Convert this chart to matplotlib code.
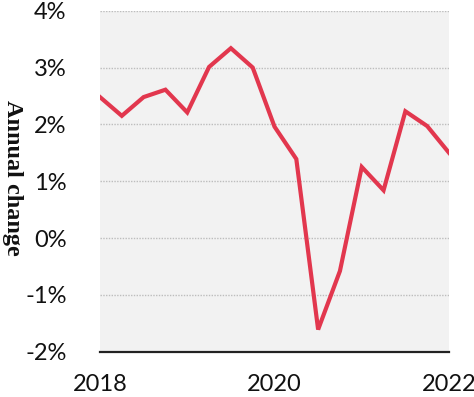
import matplotlib
matplotlib.use("Agg")
import matplotlib.pyplot as plt
import numpy as np

quarters = ["2018Q1","2018Q2","2018Q3","2018Q4","2019Q1","2019Q2","2019Q3","2019Q4",
            "2020Q1","2020Q2","2020Q3","2020Q4","2021Q1","2021Q2","2021Q3","2021Q4","2022Q1"]
values = [2.48, 2.15, 2.48, 2.61, 2.21, 3.01, 3.34, 3.0,
          1.96, 1.39, -1.61, -0.58, 1.25, 0.84, 2.23, 1.97, 1.5]
x_tick_labels = ["2018", "2020", "2022"]
y_ticks = [-2, -1, 0, 1, 2, 3, 4]
y_tick_labels = ["-2%", "-1%", "0%", "1%", "2%", "3%", "4%"]

fig = plt.figure(figsize=(4.74, 3.97), dpi=100)
ax = fig.add_axes([100/474, (397-351.7)/397, 349/474, (351.7-10.7)/397])
ax.set_facecolor("#f2f2f2")

x = np.arange(len(values))
ax.plot(x, values, color="#e2374e", lw=3.0, solid_joinstyle="miter", zorder=3)

ax.set_xlim(0, len(values) - 1)
ax.set_ylim(-2, 4)
ax.set_yticks(y_ticks)
ax.set_yticklabels(y_tick_labels)
ax.set_xticks([0, 8, 16])
ax.set_xticklabels(x_tick_labels)

for yv in y_ticks[1:]:
    ax.axhline(yv, color="#bdbdbd", lw=1.0, ls=(0, (1, 1)), zorder=1)

for s in ["top", "right", "left"]:
    ax.spines[s].set_visible(False)
ax.spines["bottom"].set_color("#222222")
ax.spines["bottom"].set_linewidth(1.6)

ax.tick_params(axis="both", length=0, labelsize=17, colors="#111111")
ax.tick_params(axis="y", pad=24)
ax.tick_params(axis="x", pad=16)
for lab in ax.get_xticklabels() + ax.get_yticklabels():
    lab.set_fontfamily("Lato")

fig.text(0.027, 0.552, "Annual change", rotation=-90, ha="center", va="center",
         fontsize=17.5, fontweight="bold", family="Liberation Serif", color="#111111")

fig.savefig("out.png", dpi=100)
